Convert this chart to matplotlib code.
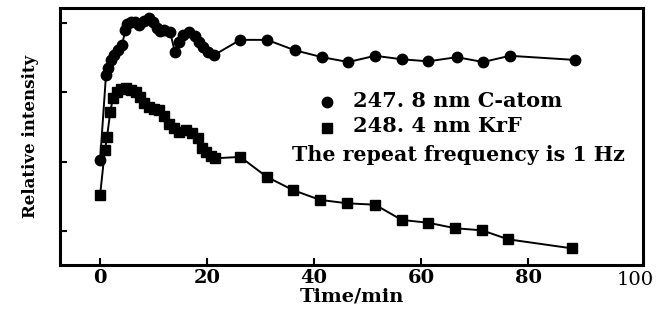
import numpy as np
import matplotlib
matplotlib.use("Agg")
import matplotlib.pyplot as plt

# C-atom emission, 247.8 nm (circles)
c_time = [0, 1.1, 1.5, 2.1, 2.6, 3.4, 4.1, 4.7, 5.0, 5.8, 6.5, 7.3, 8.2, 9.2, 9.9,
          10.7, 11.2, 12.0, 13.1, 14.0, 14.8, 15.5, 16.6, 17.8, 18.5, 19.3, 20.2,
          21.3, 26.2, 31.2, 36.4, 41.5, 46.4, 51.4, 56.4, 61.3, 66.7, 71.6, 76.6, 88.8]
c_int = [2.02, 3.25, 3.35, 3.47, 3.54, 3.61, 3.68, 3.90, 3.99, 4.02, 4.02, 3.97, 4.03,
         4.07, 4.02, 3.93, 3.89, 3.90, 3.87, 3.58, 3.73, 3.83, 3.87, 3.81, 3.73, 3.66,
         3.58, 3.54, 3.76, 3.76, 3.61, 3.51, 3.44, 3.53, 3.48, 3.45, 3.51, 3.44, 3.53, 3.47]

# KrF laser, 248.4 nm (squares)
k_time = [0, 0.9, 1.3, 1.9, 2.4, 3.2, 3.9, 4.9, 5.8, 6.7, 7.5, 8.2, 9.2, 10.1, 11.0,
          12.0, 12.9, 13.8, 14.8, 16.1, 17.2, 18.3, 19.1, 19.8, 20.7, 21.5, 26.2,
          31.2, 36.1, 41.1, 46.2, 51.4, 56.4, 61.3, 66.4, 71.4, 76.3, 88.2]
k_int = [1.52, 2.17, 2.36, 2.72, 2.92, 3.01, 3.05, 3.06, 3.03, 3.01, 2.93, 2.85, 2.79,
         2.76, 2.75, 2.66, 2.54, 2.49, 2.43, 2.46, 2.41, 2.34, 2.20, 2.14, 2.08, 2.05,
         2.07, 1.78, 1.59, 1.45, 1.40, 1.38, 1.16, 1.12, 1.04, 1.01, 0.88, 0.75]

x_ticks = [0, 20, 40, 60, 80]
y_ticks = [1, 2, 3, 4]

plt.rcParams["font.family"] = ["DejaVu Serif"]

fig = plt.figure(figsize=(6.57, 3.2), dpi=100)
ax = fig.add_axes([0.0913, 0.172, 0.8874, 0.803])

ax.plot(c_time, c_int, "-o", color="black", lw=1.4, ms=7.5)
ax.plot(k_time, k_int, "-s", color="black", lw=1.4, ms=6.5)

ax.set_xlim(-7.5, 101.5)
ax.set_ylim(0.51, 4.22)
ax.set_xticks(x_ticks)
ax.set_yticks(y_ticks)
ax.set_yticklabels([])
ax.tick_params(direction="in", length=5, width=1.5, labelsize=14, pad=3)
for lab in ax.get_xticklabels():
    lab.set_fontweight("bold")
for s in ax.spines.values():
    s.set_linewidth(2.2)

# "100" label sits at the right edge with no tick mark
ax.text(100, -0.025, "100", transform=ax.get_xaxis_transform(), ha="center", va="top",
        fontsize=14)

ax.set_xlabel("Time/min", fontsize=14, fontweight="bold", labelpad=0)
ax.set_ylabel("Relative intensity", fontsize=12, fontweight="bold", labelpad=12)

# legend drawn as text
ax.plot([42.4], [2.86], "o", color="black", ms=7.5)
ax.plot([42.4], [2.49], "s", color="black", ms=6.5)
ax.text(47.3, 2.88, "247. 8 nm C-atom", fontsize=15, fontweight="bold", va="center")
ax.text(47.3, 2.51, "248. 4 nm KrF", fontsize=15, fontweight="bold", va="center")
ax.text(35.9, 2.10, "The repeat frequency is 1 Hz", fontsize=14.8, fontweight="bold",
        va="center")

fig.savefig("out.png", dpi=100)
